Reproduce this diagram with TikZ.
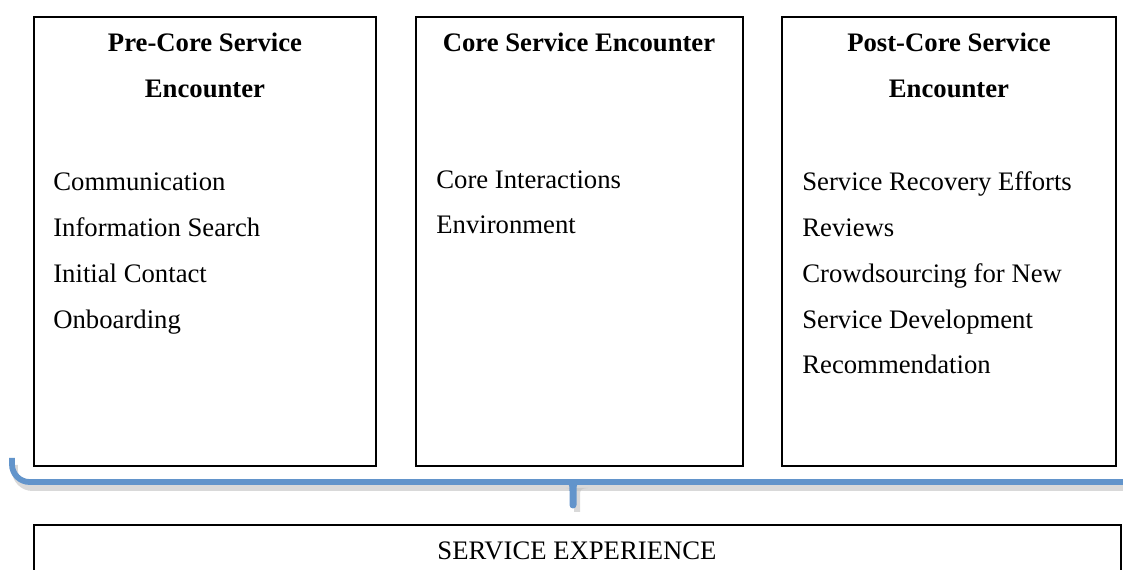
\documentclass[tikz,border=0pt]{standalone}
\usepackage{fontspec}
\setmainfont{Liberation Serif}
\definecolor{accolade}{RGB}{98,148,203}
\begin{document}
\begin{tikzpicture}[x=0.02cm, y=-0.02cm,
  cadre/.style={line width=1pt},
  titre/.style={font=\fontsize{15.2}{18}\selectfont\bfseries, anchor=base, inner sep=0pt},
  item/.style={font=\fontsize{15.2}{18}\selectfont, anchor=base west, inner sep=0pt}]
\useasboundingbox (0,0) rectangle (1123,570);
% Cadres
\draw[cadre] (34,17) rectangle (376,466);
\draw[cadre] (416,17) rectangle (743,466);
\draw[cadre] (782,17) rectangle (1116,466);
\draw[cadre] (34,525) rectangle (1121,610);
% Titres
\node[titre] (pre1) at (205,52) {Pre-Core Service};
\node[titre] (pre2) at (205,98) {Encounter};
\node[titre] (core) at (579,52) {Core Service Encounter};
\node[titre] (post1) at (949,52) {Post-Core Service};
\node[titre] (post2) at (949,98) {Encounter};
% Listes
\foreach \txt [count=\i] in {Communication, Information Search, Initial Contact, Onboarding}
  \node[item] (prei\i) at (53,191+45.7*\i-45.7) {\txt};
\foreach \txt [count=\i] in {Core Interactions, Environment}
  \node[item] (corei\i) at (436,189+45*\i-45) {\txt};
\foreach \txt [count=\i] in {Service Recovery Efforts, Reviews, Crowdsourcing for New, Service Development, Recommendation}
  \node[item] (posti\i) at (802,191+45.7*\i-45.7) {\txt};
% Ombre de l'accolade
\draw[black!25, line width=3.4pt, opacity=0.6, rounded corners=10] (15,465) -- (15,488) -- (1130,488);
\fill[black!25, opacity=0.6] (566,488) .. controls (574,489) .. (574,497) -- (574,512) -- (580,512) -- (580,497) .. controls (580,489) .. (588,488) -- cycle;
% Accolade
\draw[accolade, line width=3.3pt, rounded corners=10] (12,458) -- (12,482) -- (1130,482);
\fill[accolade] (562,482) .. controls (569.5,483) .. (569.5,492) -- (569.5,505) arc (180:0:3.5) -- (576.5,492) .. controls (576.5,483) .. (584,482) -- cycle;
% Experience
\node[item, anchor=base] (experience) at (577,560) {SERVICE EXPERIENCE};
\end{tikzpicture}
\end{document}
